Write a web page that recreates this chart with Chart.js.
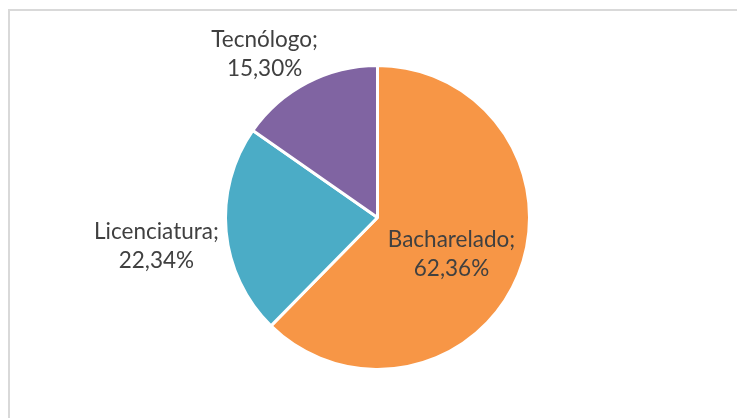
<!DOCTYPE html>
<html>
<head>
<meta charset="utf-8">
<script src="https://cdn.jsdelivr.net/npm/chart.js@4"></script>
<style>
  html, body { margin: 0; padding: 0; background: #fff; }
  #wrap { position: relative; width: 737px; height: 418px; overflow: hidden; }
  #frame { position: absolute; left: 8px; top: 9px; width: 760px; height: 440px;
           border-top: 2px solid #d9d9d9; border-left: 2px solid #d9d9d9; }
  canvas { position: absolute; left: 0; top: 0; }
</style>
</head>
<body>
<div id="wrap">
  <div id="frame"></div>
  <canvas id="chart" width="737" height="418"></canvas>
</div>
<script>
// データ
const categories = ['Bacharelado', 'Licenciatura', 'Tecnólogo'];
const shares = [62.36, 22.34, 15.30];
const sliceColors = ['#F79646', '#4BACC6', '#8064A2'];

// ラベル位置（半径に対する中心からのずれ）
const labelOffsets = [
  { x: 0.49, y: 0.29 },
  { x: -1.464, y: 0.238 },
  { x: -0.748, y: -1.033 }
];

function fmt(v) {
  return v.toFixed(2).replace('.', ',') + '%';
}

// データラベルを描くプラグイン
const pieLabels = {
  id: 'pieLabels',
  afterDatasetsDraw(chart) {
    const ctx = chart.ctx;
    const arcs = chart.getDatasetMeta(0).data;
    ctx.save();
    ctx.font = '22.5px Lato';
    ctx.fillStyle = '#404040';
    ctx.textAlign = 'center';
    ctx.textBaseline = 'alphabetic';
    arcs.forEach((arc, i) => {
      const r = 151;
      const cx = arc.x + labelOffsets[i].x * r;
      const cy = arc.y + labelOffsets[i].y * r;
      ctx.fillText(categories[i] + ';', cx, cy - 14.5);
      ctx.fillText(fmt(shares[i]), cx, cy + 14.5);
    });
    ctx.restore();
  }
};

new Chart(document.getElementById('chart').getContext('2d'), {
  type: 'pie',
  data: {
    labels: categories,
    datasets: [{
      data: shares,
      backgroundColor: sliceColors,
      borderColor: '#ffffff',
      borderWidth: 3
    }]
  },
  options: {
    responsive: false,
    animation: false,
    layout: {
      padding: { left: 224, right: 206, top: 64, bottom: 47 }
    },
    plugins: {
      legend: { display: false },
      tooltip: { enabled: false }
    }
  },
  plugins: [pieLabels]
});
</script>
</body>
</html>
